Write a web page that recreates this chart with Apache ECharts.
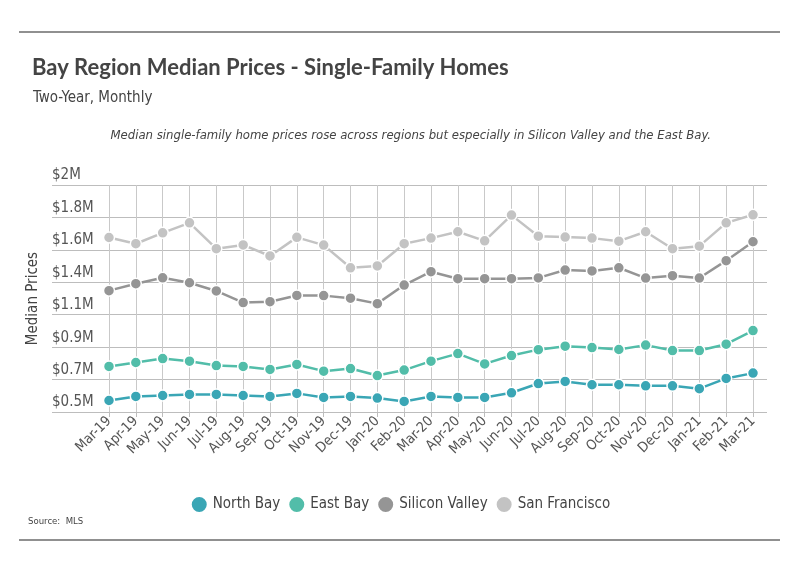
<!DOCTYPE html>
<html lang="en">
<head>
    <meta charset="UTF-8">
    <title>Bay Region Median Prices</title>
    <style>
        html, body {
            margin: 0;
            height: 100%;
            background: #fff;
        }
        #main {
            width: 800px;
            height: 575px;
        }
    </style>
    <script src="https://cdn.jsdelivr.net/npm/echarts@6/dist/echarts.min.js"></script>
</head>
<body>
    <div id="main"></div>
    <script>
        const chart = echarts.init(document.getElementById('main'))

        const narrow = '"Liberation Sans Narrow", "DejaVu Sans Condensed", Lato, sans-serif'

        // months, Mar-19 .. Mar-21
        const months = ['Mar-19', 'Apr-19', 'May-19', 'Jun-19', 'Jul-19', 'Aug-19', 'Sep-19', 'Oct-19',
            'Nov-19', 'Dec-19', 'Jan-20', 'Feb-20', 'Mar-20', 'Apr-20', 'May-20', 'Jun-20', 'Jul-20',
            'Aug-20', 'Sep-20', 'Oct-20', 'Nov-20', 'Dec-20', 'Jan-21', 'Feb-21', 'Mar-21']

        // median prices, in $M
        const northBay = [0.576, 0.603, 0.609, 0.616, 0.616, 0.609, 0.603, 0.623,
            0.596, 0.603, 0.592, 0.570, 0.603, 0.596, 0.596, 0.627, 0.688,
            0.702, 0.680, 0.680, 0.673, 0.673, 0.654, 0.722, 0.757]
        const eastBay = [0.801, 0.827, 0.853, 0.836, 0.807, 0.801, 0.781, 0.814,
            0.770, 0.787, 0.741, 0.777, 0.836, 0.886, 0.818, 0.873, 0.912,
            0.935, 0.926, 0.913, 0.942, 0.906, 0.906, 0.948, 1.038]
        const siliconValley = [1.302, 1.348, 1.387, 1.354, 1.300, 1.223, 1.229, 1.270,
            1.269, 1.252, 1.216, 1.339, 1.427, 1.381, 1.381, 1.381, 1.386,
            1.438, 1.432, 1.453, 1.385, 1.401, 1.385, 1.500, 1.625]
        const sanFrancisco = [1.653, 1.612, 1.684, 1.750, 1.579, 1.604, 1.531, 1.654,
            1.603, 1.453, 1.465, 1.612, 1.649, 1.691, 1.631, 1.801, 1.662,
            1.656, 1.649, 1.629, 1.691, 1.579, 1.596, 1.750, 1.803]

        const seriesNames = ['North Bay', 'East Bay', 'Silicon Valley', 'San Francisco']
        const seriesColors = ['#3aa6b5', '#52bda9', '#959595', '#c3c3c3']
        const seriesData = [northBay, eastBay, siliconValley, sanFrancisco]

        const yMin = 0.5
        const yMax = 2
        const yStep = (yMax - yMin) / 7

        function priceLabel (v) {
            return '$' + (Math.round(v * 10) / 10) + 'M'
        }

        const options = {
            animation: false,
            title: [{
                text: 'Bay Region Median Prices - Single-Family Homes',
                left: 27,
                top: 52,
                textStyle: { fontFamily: 'Lato', fontWeight: 'bold', fontSize: 22, color: '#444' }
            }, {
                text: 'Two-Year, Monthly',
                left: 28,
                top: 86,
                textStyle: { fontFamily: narrow, fontWeight: 'normal', fontSize: 15, color: '#444' }
            }, {
                text: 'Median single-family home prices rose across regions but especially in Silicon Valley and the East Bay.',
                right: 84,
                top: 124,
                textStyle: { fontFamily: narrow, fontStyle: 'italic', fontWeight: 'normal', fontSize: 13, color: '#444' }
            }, {
                text: 'Source:  MLS',
                left: 23,
                top: 512,
                textStyle: { fontFamily: narrow, fontWeight: 'normal', fontSize: 9.5, color: '#444' }
            }],
            graphic: [{
                type: 'line',
                shape: { x1: 19, y1: 32, x2: 780, y2: 32 },
                style: { stroke: '#222', lineWidth: 1.2 }
            }, {
                type: 'line',
                shape: { x1: 19, y1: 540, x2: 780, y2: 540 },
                style: { stroke: '#222', lineWidth: 1.2 }
            }],
            legend: {
                data: seriesNames,
                top: 490,
                left: 'center',
                icon: 'circle',
                itemWidth: 17,
                itemHeight: 17,
                itemGap: 7,
                textStyle: { fontFamily: narrow, fontSize: 15, color: '#444' }
            },
            grid: [
                // wide grid: horizontal lines and price labels
                { left: 52, right: 33, top: 185, bottom: 163 },
                // plot grid: months and lines
                { left: 109, right: 47, top: 185, bottom: 163 }
            ],
            xAxis: [{
                gridIndex: 0,
                type: 'value',
                show: false
            }, {
                gridIndex: 1,
                type: 'category',
                data: months,
                boundaryGap: false,
                axisLine: { lineStyle: { color: '#bdbdbd' } },
                axisTick: { show: true, length: 5, lineStyle: { color: '#bdbdbd' } },
                splitLine: { show: true, lineStyle: { color: '#c9c9c9' } },
                axisLabel: {
                    rotate: 45,
                    interval: 0,
                    margin: 7,
                    fontFamily: narrow,
                    fontSize: 14,
                    color: '#555'
                }
            }],
            yAxis: [{
                gridIndex: 0,
                type: 'value',
                min: yMin,
                max: yMax,
                interval: yStep,
                name: 'Median Prices',
                nameLocation: 'middle',
                nameGap: 8,
                nameTextStyle: { fontFamily: narrow, fontSize: 15, color: '#444' },
                axisLine: { show: false },
                axisTick: { show: false },
                splitLine: { lineStyle: { color: '#bdbdbd' } },
                axisLabel: {
                    inside: true,
                    margin: 0,
                    verticalAlign: 'bottom',
                    padding: [0, 0, 2, 0],
                    fontFamily: narrow,
                    fontSize: 15,
                    color: '#555',
                    formatter: priceLabel
                }
            }, {
                gridIndex: 1,
                type: 'value',
                min: yMin,
                max: yMax,
                interval: yStep,
                show: false,
                splitLine: { show: false }
            }],
            series: seriesNames.map((name, i) => ({
                name: name,
                type: 'line',
                xAxisIndex: 1,
                yAxisIndex: 1,
                data: seriesData[i],
                symbol: 'circle',
                symbolSize: 11,
                showSymbol: true,
                color: seriesColors[i],
                lineStyle: { width: 2.5, color: seriesColors[i] },
                itemStyle: { color: seriesColors[i], borderColor: '#fff', borderWidth: 1.5 },
                z: 2 + i
            }))
        }

        chart.setOption(options)
    </script>
</body>
</html>
